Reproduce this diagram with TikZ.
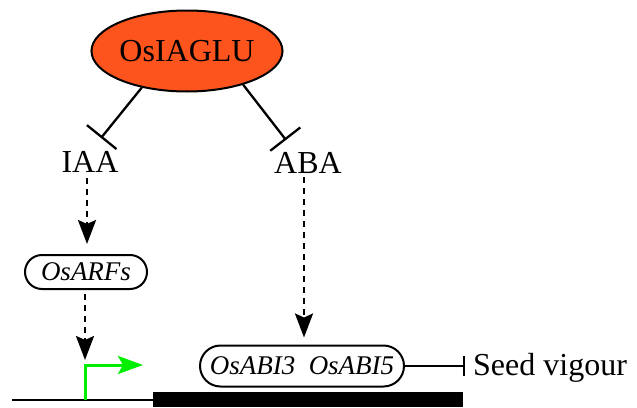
\documentclass[tikz,border=0pt]{standalone}
\usepackage{fontspec}
\setmainfont{Liberation Serif}
\usetikzlibrary{arrows.meta,shapes.geometric,shapes.misc}
\definecolor{gluorange}{RGB}{252,84,28}
\definecolor{promgreen}{RGB}{0,238,0}
\tikzset{
  bigtext/.style={font=\fontsize{32}{38}\selectfont, inner sep=0pt},
  genebox/.style={rounded rectangle, draw, line width=2pt, inner sep=0pt,
                  font=\fontsize{27}{32}\selectfont\itshape},
  inhib/.style={line width=2.3pt, -{Bar[width=#1,line width=2.3pt]}},
  activ/.style={line width=2.6pt, dash pattern=on 6pt off 5pt,
                -{Stealth[length=24pt,width=18pt,inset=4pt]}},
}
\begin{document}
\begin{tikzpicture}[x=1pt,y=-1pt]
\useasboundingbox (0,0) rectangle (637,407);

% enzyme
\node[ellipse, draw, line width=2pt, fill=gluorange, minimum width=177pt,
      minimum height=81pt, bigtext] (glu) at (187,51) {OsIAGLU};

% hormones
\node[bigtext, anchor=base] (iaa) at (90,172) {IAA};
\node[bigtext, anchor=base] (aba) at (308,173) {ABA};

\coordinate (barL) at (101,138);
\coordinate (barR) at (286,140);
\draw[inhib=38pt] (glu.219) -- (barL);
\draw[inhib=38pt] (glu.329) -- (barR);

% transcription factors
\node[genebox, minimum width=122pt, minimum height=34pt] (arf) at (86,272) {OsARFs};
\node[genebox, minimum width=204pt, minimum height=41pt] (abi) at (302,366) {OsABI3\ \ OsABI5};

\draw[activ, shorten <=6pt, shorten >=10pt] (iaa.south -| 87,0) -- (arf.north -| 87,0);
\draw[activ, shorten <=4pt, shorten >=7pt] (aba.south -| 304,0) -- (abi.north -| 304,0);

% gene with promoter
\coordinate (dnaL) at (12,400);
\coordinate (tss) at (85,400);
\coordinate (tssTop) at (85,365);
\coordinate (tssTip) at (143,365);
\coordinate (cdsL) at (153,400);
\draw[line width=2.2pt] (dnaL) -- (cdsL);
\fill (153,392) rectangle (463,407);
\draw[promgreen, line width=3pt, -{Stealth[length=25pt,width=18pt,inset=5pt]}]
  (tss) -- (tssTop) -- (tssTip);
\draw[activ, shorten <=4pt, shorten >=5pt] (arf.south -| 85,0) -- (tssTop);

% phenotype
\node[bigtext, anchor=base west] (seed) at (473,375) {Seed vigour};
\coordinate (barS) at (465,366);
\draw[inhib=20pt] (abi.east) -- (barS);
\end{tikzpicture}
\end{document}
